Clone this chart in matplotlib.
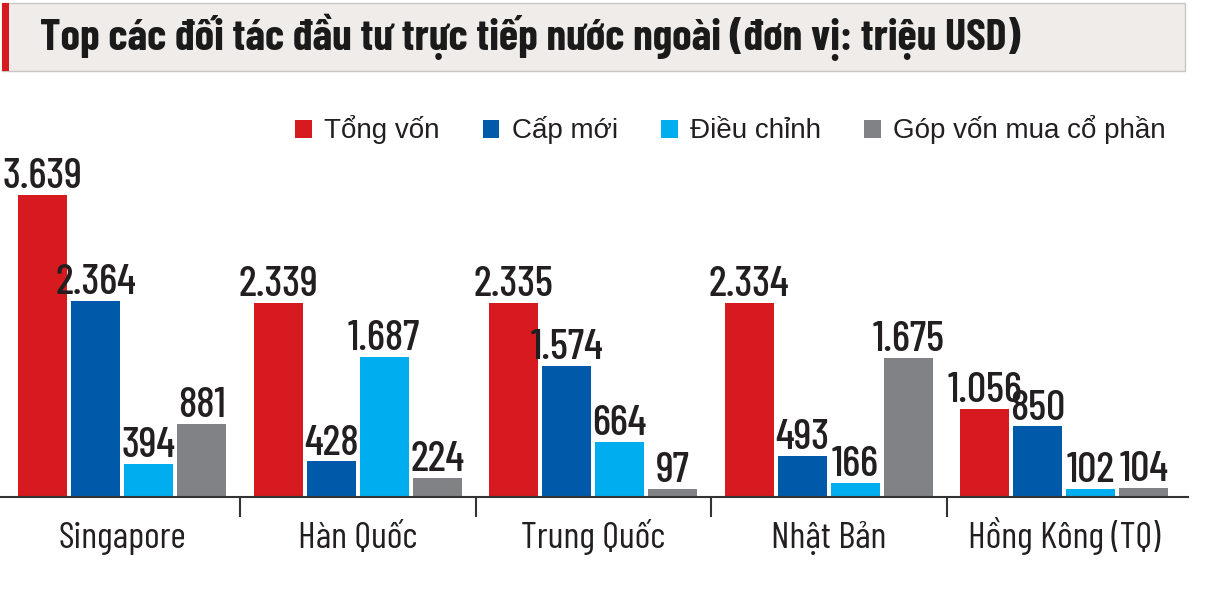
import numpy as np
import matplotlib.pyplot as plt
from matplotlib.patches import Rectangle

# data
partners = ["Singapore", "Hàn Quốc", "Trung Quốc", "Nhật Bản", "Hồng Kông (TQ)"]
series = ["Tổng vốn", "Cấp mới", "Điều chỉnh", "Góp vốn mua cổ phần"]
tong_von = [3639, 2339, 2335, 2334, 1056]
cap_moi = [2364, 428, 1574, 493, 850]
dieu_chinh = [394, 1687, 664, 166, 102]
gop_von = [881, 224, 97, 1675, 104]
colors = ["#d71920", "#005aa9", "#00aeef", "#808285"]

cond = ["Barlow Condensed", "DejaVu Sans"]
ink = "#231f20"

W, H = 1209, 613
fig = plt.figure(figsize=(W / 100, H / 100), dpi=100)
r = fig.canvas.get_renderer()


def fit(t, target_px):
    # scale the font so the text spans target_px
    w = t.get_window_extent(r).width
    t.set_fontsize(t.get_fontsize() * target_px / w)
    return t.get_fontsize()


# title bar
fig.patches.append(Rectangle((2 / W, 1 - 71 / H), 1183 / W, 68 / H, transform=fig.transFigure,
                             facecolor="#efecea", edgecolor="#c9c7c5", lw=1))
fig.patches.append(Rectangle((2 / W, 1 - 71 / H), 7 / W, 68 / H, transform=fig.transFigure,
                             facecolor="#d71920", edgecolor="none"))
title = fig.text(40 / W, 1 - 50 / H, "Top các đối tác đầu tư trực tiếp nước ngoài (đơn vị: triệu USD)",
                 family=cond, fontweight="bold", fontsize=27, color="#1a1a1a",
                 va="baseline", ha="left")
fit(title, 980)

# axes
px_per_unit = 302 / 3639
ax_h = 347
ax = fig.add_axes([0, 116 / H, 1188 / W, ax_h / H])
ax.set_ylim(0, ax_h / px_per_unit)
ax.set_xlim(-0.519, 4.525)

probe = fig.text(0, 0, "3.639", family=cond, fontsize=30, fontweight="medium")
val_size = fit(probe, 80)
probe.remove()

x = np.arange(len(partners))
step = 53 / 235.5
width = 49 / 235.5
all_vals = [tong_von, cap_moi, dieu_chinh, gop_von]
bars = []
for i, vals in enumerate(all_vals):
    xs = x + (i - 1.5) * step
    b = ax.bar(xs, vals, width, color=colors[i], label=series[i], zorder=2)
    bars.append(b)
    for xi, v in zip(xs, vals):
        lbl = f"{v:,}".replace(",", ".")
        ax.annotate(lbl, (xi, v), xytext=(0, 5), textcoords="offset points",
                    ha="center", va="baseline", fontsize=val_size, fontweight="medium",
                    family=cond, color=ink)

for s in ["top", "right", "left"]:
    ax.spines[s].set_visible(False)
ax.spines["bottom"].set_color("#333333")
ax.spines["bottom"].set_linewidth(1.5)
ax.set_yticks([])
ax.set_xticks(x[:-1] + 0.5)
ax.set_xticklabels([])
ax.tick_params(axis="x", length=14.5, width=1.5, color="#333333", direction="out")
ax.set_facecolor("none")

probe = fig.text(0, 0, "Singapore", family=cond, fontsize=25)
cat_size = fit(probe, 128)
probe.remove()
for xi, name in zip(x, partners):
    ax.text(xi, -51 / ax_h, name, transform=ax.get_xaxis_transform(), ha="center",
            va="baseline", fontsize=cat_size, family=cond, color=ink)

leg = fig.legend(handles=bars, labels=series, loc="center right",
                 bbox_to_anchor=(1166 / W, 1 - 130 / H), ncol=4, frameon=False,
                 prop={"family": "Liberation Sans", "size": 20},
                 handlelength=0.6, handleheight=0.6, handletextpad=0.45,
                 columnspacing=1.55, borderpad=0, borderaxespad=0)
for t in leg.get_texts():
    t.set_color(ink)

fig.savefig("out.png", dpi=100)
